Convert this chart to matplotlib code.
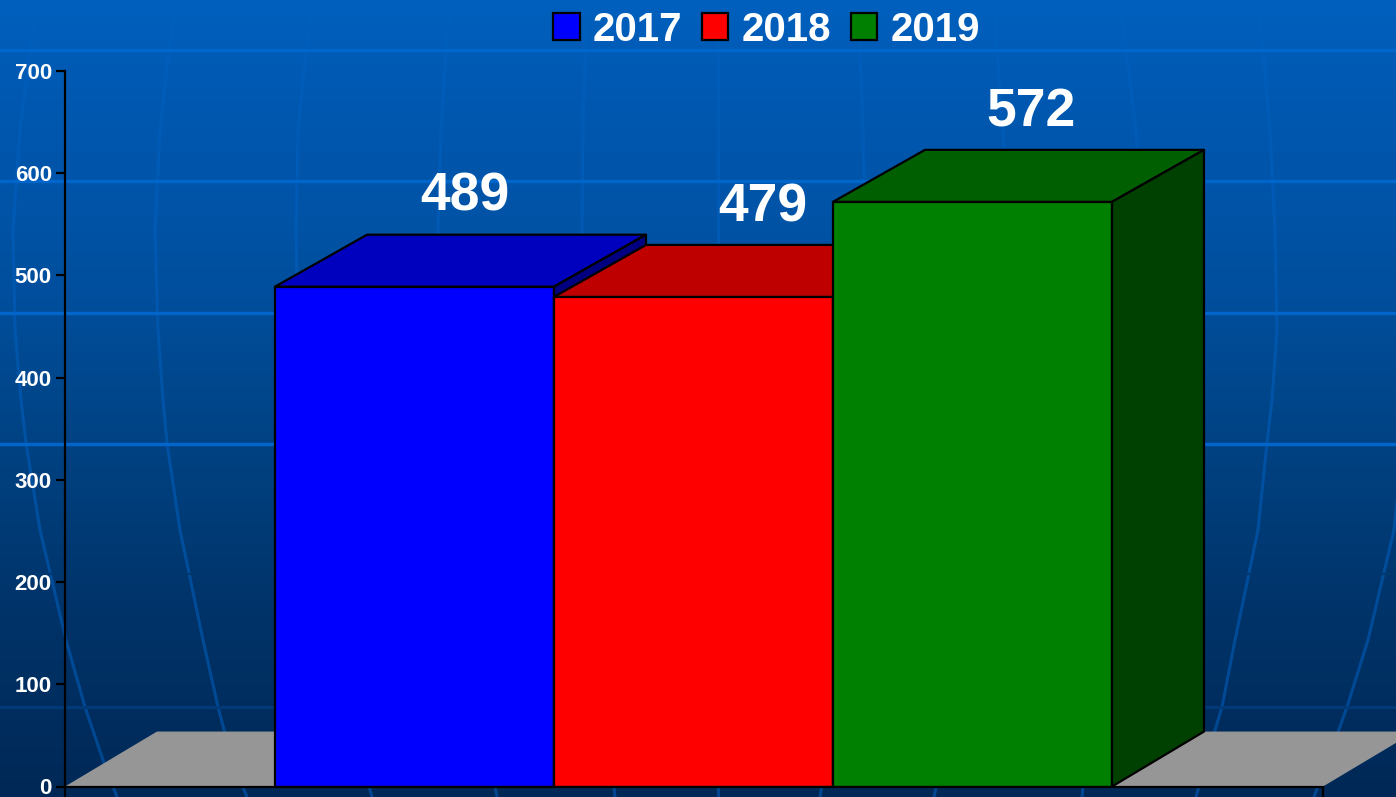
import numpy as np
from matplotlib import pyplot as plt
from matplotlib.patches import Patch, Polygon

years = ['2017', '2018', '2019']
values = [489, 479, 572]
y_ticks = [0, 100, 200, 300, 400, 500, 600, 700]

front_colors = ['#0000ff', '#ff0000', '#008000']
top_colors = ['#0000bf', '#bf0000', '#005f00']
side_colors = ['#000080', '#800000', '#004000']

# background picture, in pixels of the slide
grad_y = [0, 100, 200, 300, 400, 600, 797]
grad_g = [96, 88, 84, 78, 70, 52, 40]
grad_b = [190, 176, 168, 156, 138, 106, 86]
band_y = [50, 181, 313, 444]
meridians_x = [
	[38, 30, 20, 13, 15, 21, 26, 40, 66, 85, 103, 117],
	[177, 169, 160, 155, 158, 163, 167, 180, 203, 218, 232, 247],
	[313, 306, 298, 296, 298, 304, 310, 322, 338, 352, 362, 372],
	[450, 446, 441, 438, 438, 442, 446, 456, 470, 482, 490, 497],
	[587, 585, 583, 582, 582, 584, 586, 592, 600, 606, 611, 615],
	[718, 718, 718, 718, 718, 718, 718, 718, 718, 718, 718, 718],
	[858, 860, 863, 865, 865, 862, 860, 852, 842, 832, 826, 820],
	[994, 997, 1003, 1006, 1004, 1000, 996, 985, 968, 952, 942, 934],
	[1120, 1126, 1136, 1142, 1140, 1134, 1130, 1118, 1104, 1090, 1086, 1082],
	[1257, 1263, 1270, 1275, 1277, 1272, 1267, 1258, 1235, 1222, 1206, 1196],
	[1395, 1403, 1411, 1418, 1416, 1410, 1403, 1394, 1368, 1347, 1328, 1314],
]
meridians_y = [0, 50, 130, 230, 330, 400, 443, 530, 640, 707, 760, 797]

W, H = 1396, 797
plt.rcParams['font.family'] = ['Liberation Sans', 'DejaVu Sans']
plt.rcParams['font.weight'] = 'bold'
fig = plt.figure(figsize=(W / 100, H / 100), dpi=100)

bg = fig.add_axes([0, 0, 1, 1], zorder=0)
rows = np.arange(H)
grad = np.zeros((H, 1, 3))
grad[:, 0, 1] = np.interp(rows, grad_y, grad_g) / 255
grad[:, 0, 2] = np.interp(rows, grad_y, grad_b) / 255
bg.imshow(grad, aspect='auto', extent=[0, W, H, 0], interpolation='nearest')
for xs in meridians_x:
	bg.plot(xs, meridians_y, color='#0060c0', lw=2.2, alpha=0.55, solid_capstyle='butt')
for y in band_y:
	bg.axhline(y, color='#0066cc', lw=2.4)
bg.axhline(707, color='#003a78', lw=2.2)
bg.axhline(574, color='#00376f', lw=1.5)
bg.set_xlim(0, W)
bg.set_ylim(H, 0)
bg.axis('off')

ax = fig.add_axes([65 / W, 1 - 786.5 / H, 1258 / W, 715.5 / H], zorder=1)
ax.patch.set_visible(False)
bar_w = 279
ax.set_xlim(0, 1258 / bar_w)
ax.set_ylim(0, 700)
dx = 92 / bar_w
dy = 52 * 700 / 716
floor_dy = 55 * 700 / 716
lefts = [(275 - 65) / bar_w + i for i in range(len(values))]
xmax = ax.get_xlim()[1]

ax.add_patch(Polygon([(0, 0), (dx, floor_dy), (xmax + dx, floor_dy), (xmax, 0)], closed=True,
	facecolor='#969696', edgecolor='none', clip_on=False, zorder=1))

label_shift = [0.18, 0.25, 0.21]
for i in range(len(values)):
	x, v = lefts[i], values[i]
	z = 2 + i
	ax.bar(x, v, width=1, align='edge', color=front_colors[i], edgecolor='black', lw=1.6, zorder=z)
	ax.add_patch(Polygon([(x, v), (x + dx, v + dy), (x + 1 + dx, v + dy), (x + 1, v)], closed=True,
		facecolor=top_colors[i], edgecolor='black', lw=1.6, joinstyle='round', zorder=z))
	ax.add_patch(Polygon([(x + 1, 0), (x + 1 + dx, floor_dy), (x + 1 + dx, v + dy), (x + 1, v)], closed=True,
		facecolor=side_colors[i], edgecolor='black', lw=1.6, joinstyle='round', zorder=z))
	ax.text(x + 0.5 + label_shift[i], v + dy + 37, str(v), color='white', fontsize=38.5,
		fontweight='bold', ha='center', va='center', zorder=10)

for side in ['top', 'right']:
	ax.spines[side].set_visible(False)
for side in ['left', 'bottom']:
	ax.spines[side].set_linewidth(1.6)
	ax.spines[side].set_zorder(9)
ax.set_yticks(y_ticks)
ax.set_xticks([0, xmax])
ax.set_xticklabels([])
ax.tick_params(axis='y', length=6.5, width=1.6, color='black', labelcolor='white', labelsize=16, pad=3)
ax.tick_params(axis='x', length=7.5, width=1.6, color='black')

handles = [Patch(facecolor=front_colors[i], edgecolor='black', lw=1.6, label=years[i]) for i in range(len(years))]
leg = fig.legend(handles=handles, loc='center', bbox_to_anchor=(766.5 / W, 1 - 30 / H), ncol=3, frameon=False,
	fontsize=29, handlelength=0.66, handleheight=0.66, handletextpad=0.33, columnspacing=0.48, borderpad=0, borderaxespad=0)
for t in leg.get_texts():
	t.set_color('white')

fig.savefig('out.png', dpi=100)
